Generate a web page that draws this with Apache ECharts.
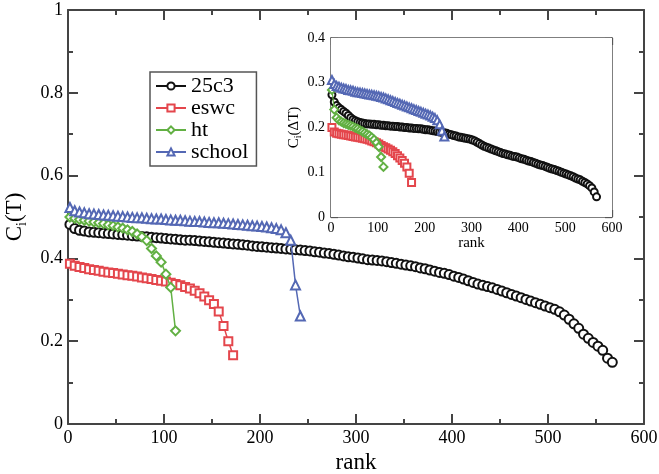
<!DOCTYPE html>
<html>
<head>
<meta charset="utf-8">
<script src="https://cdn.jsdelivr.net/npm/echarts@6/dist/echarts.min.js"></script>
<style>html,body{margin:0;padding:0;background:#fff}#c{width:659px;height:474px}</style>
</head>
<body>
<div id="c"></div>
<script>
// ---------- DATA ----------
const seriesNames = ['25c3', 'eswc', 'ht', 'school'];

const rank25c3 = [2,7,12,17,22,27,32,37,42,47,52,57,62,67,72,77,82,87,92,97,102,107,112,117,122,127,132,137,142,147,152,157,162,167,172,177,182,187,192,197,202,207,212,217,222,227,232,237,242,247,252,257,262,267,272,277,282,287,292,297,302,307,312,317,322,327,332,337,342,347,352,357,362,367,372,377,382,387,392,397,402,407,412,417,422,427,432,437,442,447,452,457,462,467,472,477,482,487,492,497,502,507,512,517,522,527,532,537,542,547,552,557,562,567];
const main25c3 = [0.482,0.472,0.468,0.466,0.464,0.463,0.462,0.461,0.460,0.459,0.458,0.457,0.456,0.455,0.454,0.453,0.452,0.451,0.450,0.449,0.448,0.447,0.446,0.445,0.444,0.444,0.443,0.442,0.441,0.440,0.439,0.438,0.437,0.436,0.435,0.434,0.433,0.432,0.430,0.429,0.428,0.427,0.426,0.425,0.424,0.423,0.422,0.421,0.420,0.419,0.418,0.416,0.415,0.413,0.412,0.410,0.408,0.406,0.404,0.403,0.401,0.399,0.397,0.396,0.395,0.394,0.392,0.390,0.388,0.386,0.384,0.382,0.380,0.377,0.375,0.372,0.369,0.366,0.364,0.361,0.357,0.354,0.350,0.346,0.342,0.338,0.335,0.332,0.329,0.325,0.321,0.317,0.313,0.309,0.305,0.301,0.297,0.293,0.289,0.285,0.281,0.277,0.271,0.263,0.253,0.242,0.231,0.217,0.207,0.197,0.188,0.178,0.159,0.149];
const inset25c3 = [0.273,0.257,0.249,0.244,0.240,0.236,0.232,0.227,0.222,0.218,0.215,0.213,0.211,0.210,0.209,0.208,0.208,0.207,0.207,0.206,0.206,0.205,0.205,0.204,0.204,0.203,0.203,0.202,0.202,0.201,0.201,0.200,0.200,0.199,0.199,0.198,0.198,0.197,0.197,0.196,0.195,0.195,0.194,0.193,0.192,0.191,0.190,0.189,0.188,0.187,0.185,0.184,0.182,0.181,0.179,0.178,0.177,0.176,0.175,0.174,0.172,0.170,0.167,0.164,0.161,0.158,0.156,0.154,0.152,0.150,0.148,0.146,0.144,0.142,0.141,0.139,0.138,0.136,0.135,0.134,0.132,0.130,0.129,0.127,0.125,0.124,0.122,0.120,0.118,0.116,0.115,0.113,0.111,0.109,0.107,0.106,0.104,0.102,0.100,0.098,0.096,0.094,0.092,0.090,0.087,0.085,0.083,0.080,0.077,0.074,0.070,0.065,0.056,0.045];

const rankEswc = [2,7,12,17,22,27,32,37,42,47,52,57,62,67,72,77,82,87,92,97,102,107,112,117,122,127,132,137,142,147,152,157,162,167,172];
const mainEswc = [0.387,0.382,0.379,0.377,0.374,0.372,0.370,0.368,0.366,0.365,0.363,0.361,0.359,0.358,0.356,0.354,0.352,0.350,0.348,0.346,0.344,0.341,0.338,0.335,0.331,0.327,0.322,0.316,0.308,0.299,0.290,0.272,0.237,0.200,0.166];
const insetEswc = [0.200,0.190,0.187,0.186,0.185,0.184,0.183,0.182,0.181,0.180,0.179,0.178,0.177,0.176,0.175,0.174,0.172,0.170,0.168,0.166,0.163,0.160,0.157,0.155,0.152,0.149,0.146,0.142,0.137,0.132,0.126,0.120,0.112,0.098,0.077];

const rankHt = [2,7,12,17,22,27,32,37,42,47,52,57,62,67,72,77,82,87,92,97,102,107,112];
const mainHt = [0.500,0.497,0.494,0.492,0.490,0.488,0.486,0.484,0.481,0.479,0.476,0.473,0.469,0.465,0.459,0.452,0.443,0.424,0.406,0.391,0.362,0.330,0.225];
const insetHt = [0.284,0.240,0.222,0.216,0.213,0.210,0.208,0.206,0.204,0.202,0.199,0.197,0.194,0.191,0.188,0.185,0.182,0.178,0.173,0.166,0.157,0.134,0.112];

const rankSchool = [2,7,12,17,22,27,32,37,42,47,52,57,62,67,72,77,82,87,92,97,102,107,112,117,122,127,132,137,142,147,152,157,162,167,172,177,182,187,192,197,202,207,212,217,222,227,232,237,242];
const mainSchool = [0.523,0.515,0.512,0.510,0.508,0.507,0.506,0.505,0.504,0.503,0.502,0.501,0.500,0.499,0.498,0.498,0.497,0.496,0.495,0.495,0.494,0.493,0.492,0.492,0.491,0.490,0.489,0.489,0.488,0.487,0.486,0.486,0.485,0.484,0.483,0.482,0.481,0.480,0.479,0.478,0.477,0.476,0.474,0.472,0.469,0.462,0.444,0.336,0.261];
const insetSchool = [0.306,0.297,0.293,0.291,0.289,0.287,0.286,0.284,0.283,0.282,0.280,0.279,0.278,0.277,0.276,0.275,0.274,0.273,0.272,0.271,0.270,0.268,0.267,0.265,0.263,0.261,0.259,0.257,0.255,0.253,0.251,0.249,0.247,0.245,0.243,0.241,0.239,0.237,0.235,0.233,0.231,0.229,0.227,0.224,0.221,0.216,0.207,0.193,0.180];

// ---------- STYLE ----------
const FONT = '"Liberation Serif", "Times New Roman", serif';
const colors = ['#111111', '#e4464c', '#62b043', '#5468b4'];
const symbols = ['emptyCircle', 'emptyRect', 'emptyDiamond', 'emptyTriangle'];
const mainSizes = [9, 8, 9, 9];
const insetSizes = [7, 7, 8, 8];

function pairs(xs, ys) { return xs.map((x, i) => [x, ys[i]]); }

const mainData = [pairs(rank25c3, main25c3), pairs(rankEswc, mainEswc), pairs(rankHt, mainHt), pairs(rankSchool, mainSchool)];
const insetData = [pairs(rank25c3, inset25c3), pairs(rankEswc, insetEswc), pairs(rankHt, insetHt), pairs(rankSchool, insetSchool)];

function xAx(grid, pos, show, big) {
  const axColor = big ? '#444' : '#555';
  return {
    type: 'value', gridIndex: grid, position: pos, min: 0, max: 600, interval: 100,
    axisLine: { show: true, onZero: false, lineStyle: { color: axColor, width: big ? 2 : 1.5 } },
    axisTick: { show: true, inside: true, length: big ? 10 : 7, lineStyle: { color: axColor, width: big ? 2 : 1.3 } },
    minorTick: { show: true, splitNumber: 2, length: big ? 5 : 4, lineStyle: { color: axColor, width: big ? 2 : 1.3 } },
    splitLine: { show: false },
    axisLabel: { show: show, color: '#000', fontFamily: FONT, fontSize: big ? 18 : 14, margin: big ? 5 : 4 },
    name: show ? 'rank' : '', nameLocation: 'middle', nameGap: big ? 22 : 19,
    nameTextStyle: { color: '#000', fontFamily: FONT, fontSize: big ? 23 : 15 }
  };
}
function yAx(grid, pos, show, big) {
  const axColor = big ? '#444' : '#555';
  return {
    type: 'value', gridIndex: grid, position: pos, min: 0, max: big ? 1 : 0.4, interval: big ? 0.2 : 0.1,
    axisLine: { show: true, onZero: false, lineStyle: { color: axColor, width: big ? 2 : 1.5 } },
    axisTick: { show: true, inside: true, length: big ? 10 : 7, lineStyle: { color: axColor, width: big ? 2 : 1.3 } },
    minorTick: { show: true, splitNumber: 2, length: big ? 5 : 4, lineStyle: { color: axColor, width: big ? 2 : 1.3 } },
    splitLine: { show: false },
    axisLabel: { show: show, color: '#000', fontFamily: FONT, fontSize: big ? 18 : 14, margin: big ? 5 : 6 },
    name: show ? (big ? 'C{s|i}(T)' : 'C{s|i}(ΔT)') : '', nameLocation: 'middle', nameGap: big ? 30 : 27,
    nameTextStyle: big
      ? { color: '#000', fontFamily: FONT, fontSize: 23, lineHeight: 30, rich: { s: { fontFamily: FONT, fontSize: 14, lineHeight: 14, verticalAlign: 'bottom', color: '#000' } } }
      : { color: '#000', fontFamily: FONT, fontSize: 15, lineHeight: 20, rich: { s: { fontFamily: FONT, fontSize: 10, lineHeight: 10, verticalAlign: 'bottom', color: '#000' } } }
  };
}

const series = [];
seriesNames.forEach((n, i) => {
  series.push({
    name: n, type: 'line', xAxisIndex: 0, yAxisIndex: 0, data: mainData[i],
    symbol: symbols[i], symbolSize: mainSizes[i], showAllSymbol: true,
    lineStyle: { color: colors[i], width: 1.5 }, itemStyle: { color: colors[i], borderWidth: 1.2 },
    z: 2 + i
  });
});
seriesNames.forEach((n, i) => {
  series.push({
    name: n, type: 'line', xAxisIndex: 2, yAxisIndex: 2, data: insetData[i],
    symbol: symbols[i], symbolSize: insetSizes[i], showAllSymbol: true,
    lineStyle: { color: colors[i], width: 1.2 }, itemStyle: { color: colors[i], borderWidth: 1.1 },
    z: 10 + i
  });
});

const chart = echarts.init(document.getElementById('c'), null, { renderer: 'canvas' });
chart.setOption({
  animation: false,
  backgroundColor: '#fff',
  grid: [
    { left: 68, top: 10, width: 576, height: 414, containLabel: false, outerBoundsMode: 'none' },
    { left: 331, top: 38, width: 281, height: 179, containLabel: false, outerBoundsMode: 'none', show: true, backgroundColor: '#fff', borderWidth: 0, z: 5 }
  ],
  xAxis: [xAx(0, 'bottom', true, true), xAx(0, 'top', false, true), xAx(1, 'bottom', true, false), xAx(1, 'top', false, false)],
  yAxis: [yAx(0, 'left', true, true), yAx(0, 'right', false, true), yAx(1, 'left', true, false), yAx(1, 'right', false, false)],
  legend: {
    data: seriesNames, orient: 'vertical', left: 150, top: 72,
    itemWidth: 30, itemHeight: 9, itemGap: 0,
    padding: [3, 8, 3, 5], borderColor: '#555', borderWidth: 1.5, backgroundColor: '#fff',
    textStyle: { fontFamily: FONT, fontSize: 22, color: '#000', lineHeight: 21 }
  },
  series: series
});
</script>
</body>
</html>
